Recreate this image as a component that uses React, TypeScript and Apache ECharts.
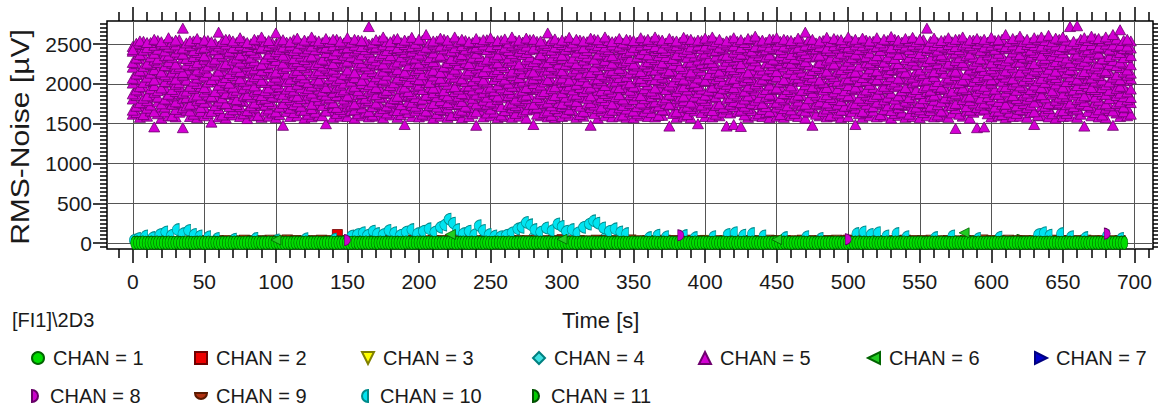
import React, { useEffect, useRef } from "react";
import * as echarts from "echarts";

// ---------- axis ranges & ticks ----------
const X_MIN = -18;
const X_MAX = 713;
const Y_MIN = -73;
const Y_MAX = 2790;
const xMajorTicks = [0, 50, 100, 150, 200, 250, 300, 350, 400, 450, 500, 550, 600, 650, 700];
const xMinorTicks = [-10, 10, 20, 30, 40, 60, 70, 80, 90, 110, 120, 130, 140, 160, 170, 180, 190, 210, 220, 230, 240, 260, 270, 280, 290, 310, 320, 330, 340, 360, 370, 380, 390, 410, 420, 430, 440, 460, 470, 480, 490, 510, 520, 530, 540, 560, 570, 580, 590, 610, 620, 630, 640, 660, 670, 680, 690, 710];
const yMajorTicks = [0, 500, 1000, 1500, 2000, 2500];
const yMinorTicks = [-50, 50, 100, 150, 200, 250, 300, 350, 400, 450, 550, 600, 650, 700, 750, 800, 850, 900, 950, 1050, 1100, 1150, 1200, 1250, 1300, 1350, 1400, 1450, 1550, 1600, 1650, 1700, 1750, 1800, 1850, 1900, 1950, 2050, 2100, 2150, 2200, 2250, 2300, 2350, 2400, 2450, 2550, 2600, 2650, 2700, 2750];

const legendNames = ["CHAN = 1", "CHAN = 2", "CHAN = 3", "CHAN = 4", "CHAN = 5", "CHAN = 6", "CHAN = 7", "CHAN = 8", "CHAN = 9", "CHAN = 10", "CHAN = 11"];

// ---------- CHAN 5: rows sampled every 5 s (main rows at 0 s, offset rows at 2.5 s) ----------
const chan5Step = 5;
const chan5Offset = 2.5;
const chan5Bottom = [
  1620, 1580, 1595, 1460, 1570, 1600, 1585, 1450, 1590, 1575,
  1600, 1520, 1585, 1570, 1610, 1590, 1565, 1600, 1580, 1595,
  1575, 1480, 1590, 1600, 1570, 1585, 1605, 1500, 1580, 1595,
  1590, 1570, 1600, 1585, 1595, 1575, 1610, 1580, 1490, 1590,
  1585, 1600, 1570, 1595, 1580, 1605, 1575, 1590, 1480, 1585,
  1600, 1575, 1590, 1580, 1595, 1570, 1490, 1600, 1585, 1575,
  1590, 1605, 1580, 1595, 1480, 1570, 1600, 1585, 1595, 1580,
  1575, 1600, 1590, 1585, 1605, 1470, 1580, 1595, 1575, 1500,
  1590, 1585, 1600, 1470, 1490, 1465, 1580, 1600, 1590, 1575,
  1595, 1580, 1605, 1590, 1570, 1480, 1600, 1585, 1595, 1575,
  1590, 1490, 1580, 1600, 1585, 1595, 1570, 1605, 1580, 1590,
  1575, 1600, 1585, 1590, 1580, 1440, 1595, 1570, 1450, 1460,
  1585, 1600, 1575, 1590, 1595, 1580, 1490, 1600, 1585, 1570,
  1590, 1595, 1580, 1470, 1600, 1585, 1575, 1480, 1590, 1600,
];
const chan5Row1 = [
  1670, 1720, 1695, 1650, 1710, 1735, 1680, 1700, 1660, 1725,
  1705, 1655, 1690, 1740, 1675, 1715, 1665, 1700, 1730, 1685,
  1650, 1710, 1695, 1725, 1670, 1690, 1740, 1660, 1705, 1680,
  1720, 1675, 1700, 1655, 1735, 1690, 1710, 1665, 1685, 1730,
  1695, 1660, 1715, 1680, 1700, 1740, 1670, 1705, 1650, 1720,
  1685, 1730, 1665, 1700, 1710, 1675, 1695, 1735, 1660, 1690,
  1715, 1680, 1740, 1655, 1705, 1690, 1720, 1670, 1700, 1685,
  1660, 1725, 1695, 1710, 1675, 1735, 1650, 1705, 1690, 1720,
  1700, 1665, 1730, 1685, 1715, 1670, 1695, 1740, 1680, 1655,
  1710, 1690, 1675, 1725, 1660, 1700, 1735, 1685, 1705, 1670,
  1720, 1695, 1655, 1710, 1740, 1680, 1665, 1700, 1730, 1690,
  1675, 1715, 1700, 1660, 1725, 1690, 1745, 1670, 1705, 1685,
  1730, 1660, 1695, 1715, 1680, 1705, 1650, 1720, 1690, 1740,
  1665, 1700, 1685, 1735, 1710, 1675, 1695, 1660, 1725, 1700,
];
const chan5Row2 = [
  1810, 1765, 1790, 1835, 1750, 1800, 1775, 1820, 1745, 1795,
  1770, 1825, 1785, 1755, 1815, 1790, 1840, 1760, 1805, 1780,
  1830, 1755, 1800, 1775, 1820, 1745, 1795, 1810, 1765, 1835,
  1785, 1750, 1815, 1790, 1760, 1825, 1775, 1805, 1840, 1770,
  1800, 1820, 1755, 1790, 1765, 1810, 1780, 1835, 1750, 1795,
  1775, 1805, 1840, 1760, 1790, 1815, 1745, 1800, 1770, 1825,
  1755, 1795, 1780, 1830, 1765, 1810, 1790, 1750, 1820, 1785,
  1805, 1760, 1835, 1775, 1800, 1745, 1815, 1790, 1770, 1830,
  1790, 1825, 1750, 1810, 1780, 1765, 1840, 1795, 1755, 1815,
  1770, 1800, 1820, 1785, 1745, 1830, 1775, 1760, 1805, 1790,
  1835, 1755, 1790, 1815, 1770, 1800, 1825, 1750, 1785, 1810,
  1765, 1840, 1795, 1775, 1820, 1755, 1805, 1790, 1830, 1760,
  1800, 1780, 1745, 1825, 1790, 1810, 1770, 1835, 1755, 1795,
  1815, 1760, 1805, 1780, 1840, 1795, 1750, 1820, 1775, 1800,
];
const chan5Row3 = [
  1875, 1910, 1850, 1895, 1930, 1870, 1905, 1885, 1940, 1860,
  1900, 1845, 1920, 1880, 1895, 1935, 1865, 1910, 1855, 1890,
  1925, 1870, 1900, 1845, 1915, 1885, 1935, 1860, 1895, 1905,
  1850, 1930, 1880, 1910, 1865, 1895, 1920, 1845, 1900, 1875,
  1935, 1860, 1890, 1915, 1850, 1905, 1880, 1940, 1870, 1895,
  1910, 1845, 1925, 1885, 1900, 1860, 1930, 1875, 1915, 1855,
  1890, 1935, 1870, 1905, 1850, 1920, 1880, 1900, 1865, 1930,
  1895, 1855, 1915, 1880, 1940, 1870, 1905, 1845, 1925, 1890,
  1860, 1910, 1885, 1935, 1875, 1900, 1850, 1920, 1895, 1870,
  1930, 1880, 1905, 1860, 1915, 1890, 1945, 1865, 1900, 1875,
  1855, 1925, 1890, 1910, 1870, 1935, 1885, 1850, 1915, 1900,
  1880, 1905, 1860, 1930, 1895, 1875, 1920, 1845, 1910, 1890,
  1935, 1870, 1900, 1855, 1925, 1885, 1910, 1865, 1940, 1895,
  1875, 1915, 1890, 1850, 1930, 1905, 1870, 1920, 1885, 1900,
];
const chan5Row4 = [
  2010, 1965, 2030, 1980, 1950, 2020, 1995, 2040, 1970, 2005,
  1955, 2025, 1985, 2015, 1960, 2035, 1990, 1975, 2020, 1950,
  2000, 2040, 1965, 1995, 2030, 1975, 2010, 1955, 2025, 1985,
  2045, 1970, 2005, 1990, 1955, 2020, 1980, 2035, 1960, 2010,
  1985, 2015, 1950, 2030, 1995, 1965, 2040, 1975, 2000, 2025,
  1960, 1990, 2035, 1970, 2015, 1955, 2005, 1985, 2030, 1965,
  2020, 1975, 1995, 2045, 1960, 2010, 1980, 2025, 1955, 2000,
  1970, 2035, 1990, 1950, 2015, 1985, 2040, 1965, 2005, 1975,
  2030, 1960, 2010, 1995, 1955, 2025, 1970, 2000, 2040, 1985,
  1950, 2020, 1975, 2035, 1990, 1965, 2010, 1955, 2030, 2005,
  1980, 1960, 2025, 1995, 2040, 1970, 2000, 1985, 1955, 2015,
  2035, 1975, 1990, 1960, 2020, 2005, 1950, 2030, 1985, 1970,
  2010, 2040, 1965, 1995, 1975, 2025, 1985, 1955, 2015, 2000,
  1960, 2030, 1980, 2005, 1955, 2020, 1990, 2035, 1970, 2045,
];
const chan5Row5 = [
  2070, 2115, 2085, 2050, 2130, 2095, 2060, 2110, 2140, 2075,
  2100, 2055, 2125, 2080, 2105, 2065, 2135, 2090, 2045, 2120,
  2085, 2140, 2060, 2095, 2075, 2115, 2050, 2130, 2100, 2070,
  2110, 2080, 2045, 2125, 2090, 2060, 2135, 2075, 2105, 2095,
  2055, 2120, 2100, 2070, 2140, 2085, 2065, 2115, 2090, 2050,
  2130, 2095, 2060, 2105, 2080, 2125, 2070, 2110, 2055, 2135,
  2075, 2050, 2120, 2090, 2115, 2065, 2100, 2140, 2080, 2095,
  2125, 2070, 2105, 2055, 2085, 2130, 2090, 2060, 2110, 2075,
  2045, 2115, 2095, 2135, 2070, 2100, 2080, 2125, 2060, 2105,
  2090, 2055, 2130, 2075, 2110, 2085, 2050, 2120, 2095, 2140,
  2065, 2100, 2080, 2115, 2055, 2125, 2090, 2070, 2135, 2085,
  2110, 2060, 2095, 2140, 2075, 2105, 2050, 2130, 2080, 2100,
  2055, 2120, 2085, 2065, 2110, 2095, 2135, 2070, 2100, 2080,
  2125, 2090, 2060, 2115, 2075, 2105, 2140, 2085, 2055, 2110,
];
const chan5Row6 = [
  2210, 2165, 2235, 2180, 2150, 2220, 2195, 2145, 2230, 2175,
  2200, 2240, 2160, 2215, 2185, 2155, 2225, 2190, 2170, 2205,
  2150, 2195, 2230, 2170, 2210, 2245, 2165, 2200, 2185, 2220,
  2175, 2140, 2215, 2190, 2235, 2160, 2205, 2180, 2150, 2225,
  2195, 2230, 2170, 2145, 2210, 2185, 2240, 2165, 2200, 2155,
  2220, 2180, 2205, 2160, 2190, 2235, 2150, 2215, 2175, 2200,
  2165, 2225, 2190, 2210, 2145, 2180, 2230, 2170, 2195, 2240,
  2185, 2155, 2215, 2175, 2200, 2165, 2225, 2190, 2150, 2210,
  2230, 2195, 2160, 2220, 2180, 2205, 2145, 2235, 2175, 2190,
  2155, 2215, 2185, 2200, 2240, 2170, 2195, 2160, 2225, 2180,
  2205, 2150, 2230, 2190, 2165, 2215, 2180, 2200, 2145, 2235,
  2175, 2210, 2155, 2195, 2225, 2160, 2240, 2185, 2205, 2170,
  2190, 2230, 2165, 2210, 2150, 2200, 2175, 2220, 2185, 2160,
  2215, 2180, 2235, 2155, 2200, 2190, 2165, 2225, 2205, 2175,
];
const chan5Row7 = [
  2270, 2315, 2260, 2300, 2335, 2280, 2250, 2325, 2295, 2265,
  2310, 2285, 2340, 2255, 2300, 2275, 2320, 2290, 2245, 2330,
  2295, 2260, 2315, 2280, 2305, 2340, 2270, 2295, 2255, 2320,
  2285, 2330, 2265, 2310, 2290, 2250, 2325, 2275, 2300, 2315,
  2260, 2305, 2280, 2335, 2270, 2295, 2315, 2255, 2320, 2285,
  2300, 2265, 2330, 2290, 2250, 2310, 2280, 2340, 2270, 2305,
  2320, 2285, 2255, 2300, 2325, 2275, 2295, 2260, 2315, 2290,
  2250, 2330, 2280, 2305, 2265, 2320, 2295, 2340, 2275, 2300,
  2310, 2270, 2325, 2285, 2300, 2255, 2315, 2290, 2335, 2265,
  2295, 2320, 2260, 2305, 2280, 2340, 2270, 2300, 2250, 2325,
  2285, 2310, 2335, 2265, 2295, 2275, 2320, 2255, 2305, 2290,
  2330, 2280, 2300, 2315, 2260, 2295, 2270, 2325, 2285, 2310,
  2265, 2305, 2290, 2340, 2275, 2320, 2255, 2300, 2330, 2280,
  2300, 2270, 2315, 2285, 2325, 2260, 2310, 2295, 2275, 2335,
];
const chan5Row8 = [
  2410, 2370, 2425, 2385, 2440, 2360, 2400, 2375, 2430, 2395,
  2355, 2415, 2380, 2435, 2400, 2365, 2420, 2390, 2445, 2375,
  2405, 2360, 2430, 2385, 2410, 2350, 2425, 2395, 2370, 2440,
  2390, 2415, 2365, 2400, 2435, 2380, 2355, 2420, 2395, 2410,
  2375, 2440, 2390, 2360, 2425, 2405, 2370, 2415, 2385, 2430,
  2400, 2365, 2435, 2380, 2410, 2395, 2445, 2370, 2420, 2390,
  2360, 2425, 2400, 2385, 2440, 2375, 2410, 2355, 2430, 2395,
  2415, 2380, 2365, 2420, 2395, 2435, 2370, 2405, 2390, 2445,
  2385, 2410, 2430, 2360, 2400, 2375, 2425, 2390, 2415, 2365,
  2435, 2395, 2370, 2405, 2380, 2440, 2360, 2420, 2400, 2385,
  2410, 2375, 2430, 2390, 2355, 2425, 2400, 2370, 2445, 2395,
  2380, 2420, 2405, 2365, 2435, 2390, 2410, 2375, 2430, 2400,
  2425, 2385, 2440, 2400, 2370, 2415, 2395, 2360, 2420, 2405,
  2390, 2435, 2375, 2410, 2400, 2385, 2445, 2420, 2395, 2430,
];
const chan5Row9 = [
  2470, 2495, 2455, 2485, 2500, 2465, 2490, 2450, 2480, 2505,
  2460, 2490, 2475, 2500, 2455, 2485, 2470, 2495, 2460, 2480,
  2500, 2465, 2485, 2450, 2490, 2475, 2505, 2460, 2480, 2495,
  2455, 2485, 2470, 2500, 2465, 2490, 2480, 2455, 2495, 2470,
  2485, 2460, 2500, 2475, 2490, 2455, 2480, 2505, 2465, 2490,
  2470, 2495, 2460, 2485, 2500, 2475, 2450, 2490, 2480, 2465,
  2495, 2470, 2485, 2455, 2500, 2480, 2465, 2490, 2475, 2500,
  2460, 2485, 2495, 2470, 2450, 2490, 2480, 2505, 2465, 2485,
  2475, 2500, 2460, 2490, 2480, 2455, 2495, 2470, 2485, 2465,
  2490, 2475, 2505, 2460, 2485, 2495, 2470, 2450, 2480, 2500,
  2465, 2490, 2480, 2500, 2470, 2485, 2455, 2495, 2475, 2490,
  2500, 2460, 2485, 2475, 2495, 2470, 2490, 2480, 2505, 2465,
  2485, 2500, 2470, 2490, 2460, 2495, 2480, 2475, 2500, 2485,
  2470, 2490, 2505, 2480, 2495, 2465, 2500, 2490, 2485, 2475,
];
const chan5Top = [
  2430, 2540, 2520, 2560, 2530, 2580, 2550, 2700, 2540, 2570,
  2550, 2530, 2650, 2560, 2540, 2580, 2520, 2560, 2590, 2545,
  2640, 2555, 2530, 2575, 2550, 2590, 2540, 2570, 2560, 2535,
  2580, 2560, 2545, 2720, 2555, 2590, 2530, 2570, 2550, 2585,
  2560, 2620, 2540, 2575, 2550, 2590, 2560, 2530, 2570, 2555,
  2580, 2545, 2565, 2590, 2550, 2575, 2560, 2540, 2640, 2565,
  2550, 2585, 2560, 2540, 2575, 2555, 2590, 2530, 2570, 2560,
  2545, 2580, 2560, 2590, 2550, 2570, 2540, 2585, 2560, 2550,
  2575, 2590, 2560, 2540, 2580, 2555, 2570, 2600, 2550, 2565,
  2580, 2560, 2545, 2575, 2650, 2560, 2540, 2585, 2570, 2555,
  2590, 2560, 2575, 2540, 2580, 2560, 2595, 2550, 2570, 2585,
  2560, 2700, 2575, 2545, 2580, 2560, 2590, 2550, 2570, 2560,
  2585, 2555, 2620, 2570, 2600, 2560, 2580, 2590, 2610, 2575,
  2590, 2720, 2730, 2580, 2600, 2570, 2590, 2620, 2680, 2560,
];
// offset rows (sampled at 2.5 s + 5 s * i)
const chan5OffA = [
  1640, 1615, 1660, 1625, 1650, 1600, 1645, 1670, 1620, 1655,
  1630, 1665, 1610, 1640, 1675, 1625, 1650, 1605, 1660, 1635,
  1615, 1655, 1640, 1670, 1620, 1645, 1600, 1660, 1630, 1650,
  1665, 1625, 1645, 1610, 1655, 1635, 1670, 1615, 1640, 1660,
  1620, 1650, 1630, 1665, 1605, 1640, 1655, 1625, 1670, 1635,
  1645, 1610, 1660, 1630, 1650, 1675, 1620, 1640, 1605, 1655,
  1635, 1665, 1615, 1645, 1625, 1660, 1640, 1670, 1610, 1650,
  1625, 1655, 1640, 1605, 1665, 1630, 1650, 1615, 1660, 1640,
  1670, 1620, 1645, 1635, 1655, 1610, 1665, 1625, 1640, 1650,
  1615, 1660, 1630, 1670, 1645, 1620, 1655, 1605, 1635, 1665,
  1650, 1625, 1640, 1660, 1615, 1670, 1630, 1645, 1620, 1655,
  1640, 1665, 1610, 1650, 1635, 1620, 1660, 1645, 1670, 1625,
  1655, 1615, 1645, 1630, 1665, 1640, 1605, 1660, 1625, 1650,
  1630, 1670, 1620, 1655, 1640, 1610, 1665, 1635, 1650, 1620,
];
const chan5OffB = [
  1720, 1760, 1735, 1775, 1710, 1745, 1765, 1725, 1750, 1705,
  1770, 1730, 1755, 1715, 1740, 1780, 1725, 1760, 1735, 1750,
  1710, 1765, 1740, 1720, 1775, 1745, 1730, 1755, 1705, 1760,
  1735, 1750, 1770, 1715, 1745, 1725, 1760, 1740, 1780, 1720,
  1755, 1730, 1710, 1765, 1740, 1750, 1720, 1775, 1735, 1745,
  1760, 1715, 1745, 1730, 1770, 1740, 1705, 1755, 1725, 1765,
  1740, 1775, 1720, 1750, 1735, 1710, 1760, 1745, 1730, 1755,
  1715, 1745, 1765, 1725, 1755, 1740, 1770, 1720, 1750, 1735,
  1760, 1730, 1705, 1745, 1770, 1720, 1755, 1740, 1715, 1765,
  1745, 1725, 1760, 1735, 1710, 1750, 1775, 1730, 1745, 1720,
  1735, 1770, 1745, 1715, 1760, 1725, 1750, 1740, 1765, 1710,
  1755, 1720, 1740, 1775, 1730, 1745, 1715, 1760, 1735, 1750,
  1710, 1745, 1765, 1725, 1755, 1735, 1780, 1720, 1745, 1760,
  1740, 1715, 1750, 1730, 1770, 1745, 1725, 1755, 1710, 1765,
];
const chan5OffC = [
  1855, 1820, 1865, 1835, 1810, 1850, 1875, 1830, 1845, 1815,
  1860, 1840, 1825, 1870, 1805, 1850, 1835, 1865, 1820, 1845,
  1875, 1830, 1850, 1815, 1860, 1840, 1870, 1825, 1855, 1810,
  1840, 1865, 1820, 1850, 1835, 1880, 1815, 1845, 1860, 1830,
  1810, 1855, 1840, 1870, 1825, 1845, 1865, 1820, 1850, 1835,
  1870, 1825, 1855, 1810, 1845, 1860, 1830, 1875, 1815, 1850,
  1835, 1860, 1845, 1820, 1870, 1830, 1855, 1840, 1810, 1865,
  1850, 1815, 1840, 1865, 1825, 1855, 1835, 1870, 1845, 1820,
  1860, 1840, 1875, 1830, 1850, 1810, 1865, 1825, 1845, 1855,
  1825, 1870, 1835, 1855, 1815, 1860, 1840, 1830, 1875, 1845,
  1850, 1820, 1860, 1840, 1870, 1835, 1810, 1855, 1830, 1865,
  1815, 1845, 1870, 1825, 1850, 1860, 1835, 1875, 1820, 1840,
  1865, 1830, 1845, 1815, 1860, 1840, 1855, 1825, 1870, 1835,
  1845, 1860, 1825, 1850, 1835, 1870, 1815, 1855, 1840, 1830,
];
const chan5OffD = [
  1925, 1960, 1940, 1915, 1955, 1930, 1970, 1910, 1945, 1965,
  1935, 1905, 1950, 1975, 1920, 1945, 1960, 1930, 1915, 1955,
  1965, 1935, 1920, 1950, 1940, 1975, 1910, 1945, 1960, 1925,
  1950, 1915, 1965, 1935, 1945, 1920, 1960, 1940, 1905, 1970,
  1930, 1960, 1945, 1915, 1955, 1935, 1970, 1925, 1950, 1940,
  1915, 1950, 1930, 1965, 1920, 1945, 1960, 1905, 1940, 1975,
  1945, 1925, 1955, 1940, 1970, 1915, 1935, 1960, 1950, 1920,
  1960, 1940, 1910, 1955, 1930, 1965, 1945, 1925, 1970, 1935,
  1920, 1955, 1945, 1965, 1935, 1910, 1950, 1975, 1930, 1945,
  1965, 1930, 1950, 1920, 1945, 1960, 1925, 1955, 1940, 1915,
  1940, 1970, 1925, 1955, 1935, 1945, 1965, 1915, 1950, 1930,
  1955, 1920, 1960, 1940, 1910, 1950, 1930, 1970, 1945, 1925,
  1935, 1965, 1945, 1920, 1955, 1930, 1960, 1940, 1915, 1975,
  1950, 1925, 1940, 1965, 1930, 1955, 1920, 1945, 1960, 1935,
];
const chan5OffE = [
  2055, 2020, 2045, 2070, 2030, 2060, 2015, 2050, 2035, 2075,
  2025, 2055, 2040, 2010, 2065, 2035, 2050, 2070, 2020, 2045,
  2060, 2030, 2075, 2040, 2020, 2055, 2035, 2065, 2045, 2010,
  2035, 2070, 2050, 2025, 2060, 2040, 2015, 2055, 2030, 2065,
  2045, 2020, 2060, 2035, 2075, 2050, 2030, 2040, 2065, 2025,
  2055, 2040, 2010, 2065, 2035, 2050, 2070, 2025, 2045, 2060,
  2030, 2055, 2045, 2020, 2060, 2040, 2075, 2035, 2050, 2015,
  2065, 2030, 2050, 2040, 2070, 2025, 2055, 2045, 2020, 2060,
  2040, 2065, 2035, 2055, 2015, 2045, 2060, 2030, 2050, 2070,
  2025, 2045, 2065, 2035, 2055, 2040, 2020, 2070, 2035, 2050,
  2060, 2030, 2045, 2075, 2040, 2055, 2025, 2050, 2065, 2035,
  2045, 2070, 2030, 2050, 2060, 2015, 2045, 2035, 2055, 2040,
  2070, 2035, 2055, 2025, 2045, 2065, 2040, 2020, 2060, 2050,
  2030, 2055, 2045, 2070, 2035, 2050, 2025, 2060, 2040, 2065,
];
const chan5OffF = [
  2125, 2160, 2135, 2170, 2115, 2150, 2140, 2175, 2120, 2155,
  2145, 2110, 2165, 2130, 2155, 2140, 2175, 2120, 2150, 2135,
  2160, 2125, 2145, 2115, 2170, 2140, 2130, 2165, 2150, 2120,
  2140, 2175, 2125, 2155, 2135, 2110, 2160, 2145, 2130, 2170,
  2115, 2150, 2165, 2140, 2125, 2160, 2135, 2175, 2145, 2130,
  2155, 2120, 2140, 2170, 2130, 2150, 2115, 2160, 2140, 2175,
  2135, 2160, 2125, 2145, 2165, 2120, 2150, 2135, 2170, 2140,
  2150, 2130, 2170, 2115, 2145, 2160, 2125, 2155, 2135, 2165,
  2120, 2145, 2135, 2165, 2150, 2125, 2175, 2140, 2115, 2155,
  2160, 2140, 2120, 2150, 2130, 2170, 2145, 2125, 2160, 2135,
  2145, 2165, 2130, 2155, 2120, 2140, 2170, 2150, 2125, 2160,
  2130, 2150, 2175, 2135, 2160, 2145, 2120, 2165, 2140, 2115,
  2160, 2125, 2150, 2140, 2170, 2130, 2155, 2145, 2120, 2165,
  2140, 2170, 2130, 2155, 2125, 2160, 2145, 2115, 2150, 2135,
];
const chan5OffG = [
  2255, 2220, 2245, 2270, 2230, 2260, 2215, 2250, 2240, 2275,
  2225, 2265, 2235, 2250, 2210, 2255, 2270, 2230, 2245, 2260,
  2240, 2215, 2260, 2230, 2275, 2245, 2225, 2255, 2235, 2265,
  2270, 2240, 2225, 2260, 2245, 2215, 2250, 2275, 2230, 2255,
  2235, 2265, 2250, 2220, 2260, 2240, 2270, 2230, 2245, 2215,
  2260, 2230, 2270, 2245, 2225, 2255, 2240, 2265, 2220, 2250,
  2245, 2275, 2235, 2255, 2215, 2265, 2230, 2250, 2270, 2240,
  2225, 2250, 2265, 2235, 2260, 2245, 2220, 2270, 2240, 2255,
  2265, 2235, 2245, 2215, 2255, 2270, 2240, 2225, 2260, 2230,
  2250, 2270, 2230, 2260, 2240, 2220, 2255, 2245, 2275, 2235,
  2240, 2225, 2265, 2245, 2270, 2230, 2250, 2215, 2260, 2245,
  2275, 2240, 2255, 2225, 2245, 2265, 2235, 2250, 2220, 2260,
  2230, 2260, 2240, 2270, 2235, 2255, 2215, 2265, 2245, 2250,
  2265, 2235, 2255, 2240, 2225, 2270, 2245, 2230, 2260, 2240,
];
const chan5OffH = [
  2325, 2360, 2340, 2315, 2355, 2335, 2370, 2320, 2345, 2365,
  2340, 2310, 2350, 2375, 2325, 2355, 2335, 2365, 2315, 2345,
  2370, 2335, 2320, 2350, 2340, 2375, 2310, 2355, 2330, 2360,
  2345, 2320, 2365, 2335, 2355, 2315, 2360, 2340, 2375, 2325,
  2355, 2330, 2345, 2370, 2320, 2350, 2365, 2335, 2345, 2310,
  2335, 2365, 2325, 2350, 2370, 2340, 2315, 2360, 2330, 2355,
  2360, 2325, 2355, 2340, 2310, 2365, 2345, 2330, 2375, 2320,
  2340, 2370, 2330, 2355, 2345, 2320, 2360, 2335, 2350, 2365,
  2315, 2350, 2365, 2330, 2345, 2370, 2325, 2355, 2340, 2310,
  2355, 2335, 2320, 2360, 2340, 2350, 2375, 2325, 2345, 2365,
  2330, 2365, 2345, 2315, 2355, 2340, 2320, 2370, 2335, 2350,
  2350, 2320, 2360, 2345, 2375, 2330, 2355, 2340, 2315, 2365,
  2340, 2355, 2325, 2365, 2335, 2350, 2370, 2320, 2360, 2345,
  2325, 2360, 2350, 2335, 2370, 2315, 2345, 2365, 2330, 2355,
];
const chan5OffI = [
  2450, 2425, 2460, 2435, 2415, 2455, 2440, 2470, 2420, 2445,
  2465, 2430, 2450, 2410, 2445, 2460, 2425, 2455, 2440, 2470,
  2435, 2455, 2420, 2465, 2440, 2430, 2460, 2445, 2415, 2450,
  2460, 2440, 2430, 2455, 2470, 2420, 2445, 2435, 2465, 2450,
  2425, 2450, 2465, 2440, 2415, 2460, 2435, 2455, 2445, 2430,
  2455, 2440, 2420, 2465, 2445, 2430, 2470, 2450, 2425, 2460,
  2435, 2465, 2450, 2420, 2455, 2440, 2430, 2460, 2445, 2415,
  2465, 2430, 2455, 2445, 2420, 2460, 2450, 2435, 2470, 2440,
  2450, 2420, 2440, 2465, 2435, 2455, 2415, 2460, 2430, 2445,
  2430, 2460, 2445, 2425, 2470, 2440, 2455, 2420, 2450, 2465,
  2445, 2435, 2460, 2450, 2420, 2465, 2440, 2455, 2430, 2470,
  2460, 2445, 2425, 2455, 2440, 2430, 2465, 2450, 2420, 2455,
  2435, 2470, 2450, 2440, 2460, 2425, 2455, 2445, 2465, 2430,
  2455, 2440, 2465, 2430, 2450, 2460, 2435, 2470, 2445, 2450,
];
const chan5OffJ = [
  2510, 2535, 2520, 2545, 2500, 2530, 2555, 2515, 2540, 2525,
  2545, 2510, 2535, 2560, 2520, 2540, 2505, 2550, 2530, 2515,
  2540, 2525, 2555, 2510, 2535, 2545, 2520, 2530, 2560, 2515,
  2525, 2550, 2535, 2515, 2545, 2530, 2560, 2520, 2540, 2510,
  2550, 2525, 2540, 2560, 2515, 2535, 2545, 2520, 2530, 2555,
  2530, 2545, 2515, 2540, 2525, 2555, 2535, 2510, 2545, 2520,
  2540, 2515, 2550, 2530, 2560, 2520, 2545, 2535, 2515, 2550,
  2525, 2545, 2535, 2555, 2515, 2540, 2525, 2560, 2530, 2545,
  2550, 2530, 2515, 2545, 2535, 2520, 2555, 2540, 2525, 2560,
  2535, 2550, 2525, 2540, 2560, 2515, 2545, 2530, 2555, 2520,
  2540, 2525, 2550, 2535, 2515, 2545, 2560, 2525, 2540, 2530,
  2555, 2535, 2520, 2545, 2530, 2560, 2515, 2550, 2540, 2525,
  2545, 2560, 2530, 2550, 2535, 2520, 2555, 2545, 2530, 2560,
  2550, 2535, 2560, 2545, 2570, 2540, 2555, 2565, 2545, 2540,
];

// ---------- CHAN 1 (one sample every 2 s, starting at 1 s) ----------
const chan1Start = 1;
const chan1Step = 2;
const chan1Values = [
  5, 6, 4, 7, 5, 3, 6, 5, 8, 4, 6, 5, 7, 4, 5, 6, 3, 5, 7, 6,
  4, 5, 6, 8, 5, 4, 7, 5, 6, 3, 5, 6, 4, 7, 5, 8, 6, 4, 5, 7,
  6, 4, 5, 7, 3, 6, 5, 8, 4, 6, 7, 5, 4, 6, 5, 3, 7, 6, 5, 4,
  7, 5, 6, 4, 8, 5, 3, 6, 5, 7, 4, 6, 5, 8, 6, 4, 5, 7, 3, 6,
  5, 7, 4, 6, 5, 3, 8, 5, 6, 4, 7, 5, 6, 4, 5, 7, 6, 3, 5, 8,
  4, 6, 5, 7, 6, 4, 5, 3, 7, 5, 6, 8, 4, 5, 6, 7, 5, 4, 6, 5,
  6, 5, 3, 7, 5, 4, 6, 8, 5, 6, 4, 7, 5, 3, 6, 5, 7, 4, 6, 5,
  5, 8, 6, 4, 5, 7, 3, 6, 5, 4, 7, 6, 5, 8, 4, 5, 6, 3, 7, 5,
  7, 4, 5, 6, 8, 5, 4, 6, 3, 7, 5, 6, 4, 5, 8, 6, 5, 7, 4, 6,
  4, 6, 7, 5, 3, 6, 5, 8, 6, 4, 5, 7, 6, 4, 5, 3, 7, 5, 6, 8,
  6, 5, 4, 7, 5, 6, 8, 4, 5, 6, 3, 7, 5, 6, 4, 5, 7, 6, 5, 4,
  5, 7, 6, 4, 8, 5, 3, 6, 7, 5, 4, 6, 5, 8, 6, 4, 7, 5, 3, 6,
  8, 5, 4, 6, 5, 7, 6, 3, 5, 4, 7, 5, 6, 8, 4, 6, 5, 3, 7, 5,
  4, 6, 5, 7, 3, 5, 8, 6, 4, 7, 5, 6, 4, 5, 6, 8, 3, 5, 7, 6,
  6, 4, 7, 5, 6, 3, 5, 8, 5, 6, 4, 7, 5, 6, 3, 7, 5, 4, 6, 5,
  5, 7, 4, 6, 8, 5, 6, 4, 7, 5, 3, 6, 5, 8, 4, 6, 7, 5, 4, 6,
  7, 5, 6, 3, 5, 4, 8, 6, 5, 7, 4, 5, 6, 3, 7, 5, 6, 4, 8, 5,
  5, 6, 4, 7, 5, 6, 4,
];

// ---------- CHAN 9 (one sample every 6 s, starting at 60 s) ----------
const chan9Start = 60;
const chan9Step = 6;
const chan9Values = [
  58, 62, 55, 65, 60, 57, 63, 59, 66, 61, 54, 60, 64, 58, 62, 56, 65, 60, 59, 63,
  61, 57, 64, 60, 55, 62, 58, 66, 60, 63, 59, 61, 56, 64, 60, 58, 62, 65, 57, 60,
  63, 59, 61, 55, 64, 60, 58, 62, 66, 59, 60, 57, 63, 61, 58, 64, 60, 56, 62, 59,
  65, 61, 58, 60, 63, 57, 62, 59, 64, 60, 56, 61, 63, 58, 60, 65, 59, 62, 57, 61,
  64, 60, 58, 63, 59, 61, 55, 62, 60, 66, 58, 61, 63, 57, 60, 62, 59, 64, 61, 58,
  60, 63, 57, 62, 59, 61,
];

// ---------- CHAN 10 ----------
const chan10Times = [
  0, 3, 8, 13, 18, 22, 26, 30, 34, 38, 42, 46, 52, 58, 70, 85, 100, 120, 140,
  152, 156, 160, 163, 167, 170, 174, 178, 182, 186, 190, 194, 198, 202, 206, 210, 214, 217, 220, 223,
  226, 230, 234, 238, 241, 244, 248, 252, 256, 260, 264, 268, 271, 274, 277, 280, 284, 288, 292, 296,
  299, 302, 306, 310, 314, 318, 321, 324, 328, 332, 336, 340, 344,
  360, 366, 372, 385, 392, 405, 415, 420, 426, 432, 440, 455, 470, 480, 505, 510, 515, 520, 526, 533,
  540, 560, 572, 590, 605, 632, 636, 640, 648, 655, 665, 680, 690,
];
const chan10Values = [
  40, 60, 90, 70, 110, 140, 100, 170, 120, 160, 110, 90, 80, 60, 50, 60, 40, 55, 50,
  90, 110, 130, 100, 150, 120, 110, 160, 130, 100, 140, 170, 120, 150, 180, 140, 200, 230, 300, 250,
  170, 120, 150, 110, 220, 160, 110, 90, 80, 100, 130, 180, 200, 260, 230, 170, 140, 190, 160, 240,
  210, 150, 170, 130, 200, 240, 280, 250, 190, 150, 180, 140, 120,
  70, 100, 80, 95, 70, 80, 110, 130, 100, 120, 90, 70, 80, 60, 120, 140, 110, 130, 90, 120,
  80, 70, 90, 60, 75, 110, 130, 100, 120, 80, 70, 90, 60,
];

// ---------- sparse channels ----------
const chan2Times = [50, 143, 300, 500, 650];
const chan2Values = [40, 115, 50, 45, 40];
const chan3Times = [200, 400, 600];
const chan3Values = [30, 35, 30];
const chan4Times = [10, 160, 280, 330, 520];
const chan4Values = [50, 90, 100, 90, 70];
const chan6Times = [100, 222, 300, 450, 581];
const chan6Values = [40, 110, 50, 45, 130];
const chan7Times = [100, 300, 500, 650];
const chan7Values = [20, 25, 20, 25];
const chan8Times = [150, 383, 500, 681];
const chan8Values = [40, 100, 50, 120];
const chan11Times = [50, 250, 450, 620];
const chan11Values = [30, 35, 30, 40];

const FONT = "'Liberation Sans', Arial, Helvetica, sans-serif";
const TEXT = "#1a1a1a";

const pairs = (ts: number[], vs: number[]) => vs.map((v, i) => [ts[i], v]);
const stepped = (start: number, step: number, vs: number[]) => vs.map((v, i) => [start + i * step, v]);

const HALF_RIGHT = "path://M0,0 A10,10 0 0 1 0,20 Z";
const HALF_LEFT = "path://M10,0 A10,10 0 0 0 10,20 Z";
const HALF_DOWN = "path://M0,0 L20,0 A10,10 0 0 1 0,0 Z";
const TRI_LEFT = "path://M0,5 L10,0 L10,10 Z";
const TRI_RIGHT = "path://M0,0 L10,5 L0,10 Z";
const TRI_DOWN = "path://M0,0 L10,0 L5,10 Z";

export default function App() {
  const ref = useRef<HTMLDivElement>(null);
  useEffect(() => {
    document.body.style.margin = "0";
    if (!ref.current) return;
    const chart = echarts.init(ref.current, undefined, { renderer: "svg" });

    const mainRows = [chan5Bottom, chan5Row1, chan5Row2, chan5Row3, chan5Row4, chan5Row5, chan5Row6, chan5Row7, chan5Row8, chan5Row9, chan5Top];
    const offRows = [chan5OffA, chan5OffB, chan5OffC, chan5OffD, chan5OffE, chan5OffF, chan5OffG, chan5OffH, chan5OffI, chan5OffJ];
    const chan5Data: number[][] = [];
    const ordered: [number[], number][] = [];
    for (let k = 0; k < mainRows.length; k++) {
      ordered.push([mainRows[k], 0]);
      if (k < offRows.length) ordered.push([offRows[k], chan5Offset]);
    }
    ordered.forEach(([row, off]) => row.forEach((v, i) => chan5Data.push([off + i * chan5Step, v])));

    const scatter = (name: string, data: number[][], symbol: string, size: any, color: string, border: string, bw = 0.8) => ({
      type: "scatter",
      name,
      data,
      symbol,
      symbolSize: size,
      itemStyle: { color, borderColor: border, borderWidth: bw, opacity: 1 },
      emphasis: { disabled: true },
      silent: true,
    });

    const tickStyle = { color: "#000", width: 1.5 };
    const noComma = (v: number) => String(v);
    const baseX = { type: "value", min: X_MIN, max: X_MAX, splitNumber: 15, axisLine: { show: false, onZero: false }, minorTick: { show: false } };
    const baseY = { type: "value", min: Y_MIN, max: Y_MAX, splitNumber: 6, axisLine: { show: false, onZero: false }, minorTick: { show: false } };

    const legendCols = [26, 189, 356, 527, 693, 862, 1029];
    const legends = legendNames.map((n, i) => ({
      data: [n],
      left: legendCols[i % 7],
      top: i < 7 ? 343 : 381,
      itemWidth: 12,
      itemHeight: 12,
      itemGap: 0,
      selectedMode: false,
      textStyle: { fontFamily: FONT, fontSize: 20, color: TEXT, padding: [0, 0, 0, 4] },
    }));

    chart.setOption({
      animation: false,
      backgroundColor: "#ffffff",
      title: [
        { text: "[FI1]\\2D3", left: 7, top: 305, textStyle: { fontFamily: FONT, fontSize: 20, fontWeight: "normal", color: TEXT } },
        { text: "Time [s]", left: 557, top: 304, textStyle: { fontFamily: FONT, fontSize: 22, fontWeight: "normal", color: TEXT } },
      ],
      legend: legends,
      grid: { left: 107, right: 5, top: 21, bottom: 162, show: true, borderColor: "#000", borderWidth: 1.5, backgroundColor: "transparent" },
      xAxis: [
        { ...baseX, position: "bottom", axisTick: { show: true, customValues: xMajorTicks, length: 14, lineStyle: tickStyle }, axisLabel: { show: true, customValues: xMajorTicks, formatter: noComma, margin: 22, fontFamily: FONT, fontSize: 21, color: TEXT }, splitLine: { show: true, lineStyle: { color: "#555", width: 1 } } },
        { ...baseX, position: "bottom", axisTick: { show: true, customValues: xMinorTicks, length: 9, lineStyle: tickStyle }, axisLabel: { show: false }, splitLine: { show: false } },
        { ...baseX, position: "top", axisTick: { show: true, customValues: xMajorTicks, length: 14, lineStyle: tickStyle }, axisLabel: { show: false }, splitLine: { show: false } },
        { ...baseX, position: "top", axisTick: { show: true, customValues: xMinorTicks, length: 9, lineStyle: tickStyle }, axisLabel: { show: false }, splitLine: { show: false } },
      ],
      yAxis: [
        { ...baseY, position: "left", axisTick: { show: true, customValues: yMajorTicks, length: 14, lineStyle: tickStyle }, axisLabel: { show: true, customValues: yMajorTicks, formatter: noComma, margin: 15, fontFamily: FONT, fontSize: 21, color: TEXT }, splitLine: { show: true, lineStyle: { color: "#555", width: 1 } } },
        { ...baseY, position: "left", axisTick: { show: true, customValues: yMinorTicks, length: 7, lineStyle: tickStyle }, axisLabel: { show: false }, splitLine: { show: false } },
        { ...baseY, position: "right", axisTick: { show: true, customValues: yMajorTicks, length: 14, lineStyle: tickStyle }, axisLabel: { show: false }, splitLine: { show: false } },
        { ...baseY, position: "right", axisTick: { show: true, customValues: yMinorTicks, length: 7, lineStyle: tickStyle }, axisLabel: { show: false }, splitLine: { show: false } },
      ],
      graphic: [
        {
          type: "text",
          x: 20,
          y: 137,
          rotation: Math.PI / 2,
          scaleX: 1.2,
          style: { text: "RMS-Noise [µV]", font: "25px 'Liberation Sans', Arial, sans-serif", fill: TEXT, textAlign: "center", textVerticalAlign: "middle" },
        },
      ],
      series: [
        scatter("CHAN = 5", chan5Data, "triangle", [11, 10], "#d400d4", "#6e006e"),
        scatter("CHAN = 3", pairs(chan3Times, chan3Values), TRI_DOWN, [10, 10], "#ffff00", "#808000"),
        scatter("CHAN = 7", pairs(chan7Times, chan7Values), TRI_RIGHT, [10, 10], "#0000cc", "#000080"),
        scatter("CHAN = 11", pairs(chan11Times, chan11Values), HALF_RIGHT, [6, 11], "#00cc00", "#005000"),
        scatter("CHAN = 4", pairs(chan4Times, chan4Values), "diamond", [9, 11], "#40e0e0", "#008080"),
        scatter("CHAN = 2", pairs(chan2Times, chan2Values), "rect", [10, 9], "#ee0000", "#700000"),
        scatter("CHAN = 9", stepped(chan9Start, chan9Step, chan9Values), HALF_DOWN, [10, 6], "#b03010", "#5a1a00"),
        scatter("CHAN = 10", pairs(chan10Times, chan10Values), HALF_LEFT, [7, 12], "#00e4f0", "#008b8b"),
        scatter("CHAN = 1", stepped(chan1Start, chan1Step, chan1Values), "circle", [7, 13], "#00dd00", "#006400"),
        scatter("CHAN = 6", pairs(chan6Times, chan6Values), TRI_LEFT, [10, 10], "#22cc22", "#006400"),
        scatter("CHAN = 8", pairs(chan8Times, chan8Values), HALF_RIGHT, [6, 11], "#cc00cc", "#660066"),
      ],
    });
    return () => chart.dispose();
  }, []);
  return <div ref={ref} style={{ width: 1158, height: 411 }} />;
}
